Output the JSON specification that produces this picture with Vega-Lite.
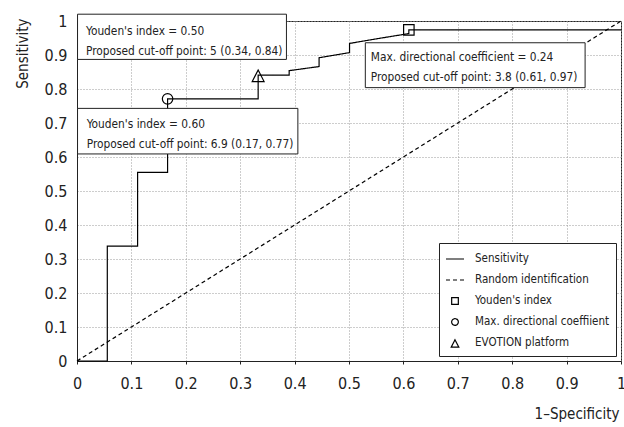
{
  "$schema": "https://vega.github.io/schema/vega-lite/v6.json",
  "width": 544,
  "height": 340,
  "autosize": {"type": "none"},
  "padding": {"left": 77, "top": 21, "right": 3, "bottom": 66},
  "background": "white",
  "config": {
    "font": "'DejaVu Sans Condensed', 'Liberation Sans', sans-serif",
    "view": {"stroke": "#222", "strokeWidth": 1},
    "axis": {
      "grid": true,
      "gridColor": "#9a9a9a",
      "gridDash": [1, 2],
      "gridWidth": 1,
      "domainColor": "#222",
      "domainWidth": 1,
      "tickColor": "#222",
      "labelColor": "#222",
      "labelFontSize": 16,
      "labelFlush": false,
      "labelOverlap": false,
      "titleColor": "#222",
      "titleFontWeight": "normal"
    },
    "legend": {
      "title": null,
      "orient": "bottom-right",
      "offset": 5,
      "strokeColor": "#222",
      "fillColor": "white",
      "padding": 6,
      "labelFontSize": 11.5,
      "labelColor": "#222",
      "labelOffset": 10,
      "labelLimit": 400,
      "symbolSize": 324,
      "symbolStrokeColor": "black",
      "symbolFillColor": "transparent",
      "symbolStrokeWidth": 1.2,
      "rowPadding": 5
    }
  },
  "datasets": {
    "curve": [
      {"series": "Sensitivity", "i": 0, "x": 0, "y": 0},
      {"series": "Sensitivity", "i": 1, "x": 0.0557, "y": 0},
      {"series": "Sensitivity", "i": 2, "x": 0.0557, "y": 0.338},
      {"series": "Sensitivity", "i": 3, "x": 0.1114, "y": 0.338},
      {"series": "Sensitivity", "i": 4, "x": 0.1114, "y": 0.555},
      {"series": "Sensitivity", "i": 5, "x": 0.1665, "y": 0.555},
      {"series": "Sensitivity", "i": 6, "x": 0.1665, "y": 0.771},
      {"series": "Sensitivity", "i": 7, "x": 0.333, "y": 0.771},
      {"series": "Sensitivity", "i": 8, "x": 0.333, "y": 0.841},
      {"series": "Sensitivity", "i": 9, "x": 0.39, "y": 0.841},
      {"series": "Sensitivity", "i": 10, "x": 0.39, "y": 0.854},
      {"series": "Sensitivity", "i": 11, "x": 0.445, "y": 0.866},
      {"series": "Sensitivity", "i": 12, "x": 0.445, "y": 0.892},
      {"series": "Sensitivity", "i": 13, "x": 0.501, "y": 0.907},
      {"series": "Sensitivity", "i": 14, "x": 0.501, "y": 0.934},
      {"series": "Sensitivity", "i": 15, "x": 0.556, "y": 0.949},
      {"series": "Sensitivity", "i": 16, "x": 0.61, "y": 0.963},
      {"series": "Sensitivity", "i": 17, "x": 0.61, "y": 0.974},
      {"series": "Sensitivity", "i": 18, "x": 1, "y": 0.974},
      {"series": "Random identification", "i": 0, "x": 0, "y": 0},
      {"series": "Random identification", "i": 1, "x": 1, "y": 1}
    ],
    "points": [
      {"series": "Youden's index", "x": 0.61, "y": 0.974},
      {"series": "Max. directional coeffiient", "x": 0.1665, "y": 0.771},
      {"series": "EVOTION platform", "x": 0.333, "y": 0.841}
    ],
    "boxes": [
      {"x": 0.001, "x2": 0.385, "y": 0.887, "y2": 1.02},
      {"x": 0.001, "x2": 0.406, "y": 0.609, "y2": 0.743},
      {"x": 0.53, "x2": 0.934, "y": 0.804, "y2": 0.936}
    ],
    "notes": [
      {"x": 0.0165, "y": 0.959, "text": "Youden's index = 0.50"},
      {"x": 0.0165, "y": 0.9, "text": "Proposed cut-off point: 5 (0.34, 0.84)"},
      {"x": 0.0178, "y": 0.684, "text": "Youden's index = 0.60"},
      {"x": 0.0178, "y": 0.626, "text": "Proposed cut-off point: 6.9 (0.17, 0.77)"},
      {"x": 0.54, "y": 0.882, "text": "Max. directional coefficient = 0.24"},
      {"x": 0.54, "y": 0.824, "text": "Proposed cut-off point: 3.8 (0.61, 0.97)"}
    ]
  },
  "encoding": {
    "x": {
      "field": "x",
      "type": "quantitative",
      "scale": {"domain": [0, 1], "nice": false, "zero": false},
      "axis": {
        "title": "1–Specificity",
        "values": [0, 0.1, 0.2, 0.3, 0.4, 0.5, 0.6, 0.7, 0.8, 0.9, 1],
        "format": ".1~f",
        "tickSize": 3,
        "labelPadding": 11,
        "titleFontSize": 15,
        "titleX": 542,
        "titleY": 57,
        "titleAlign": "right",
        "titleBaseline": "alphabetic"
      }
    },
    "y": {
      "field": "y",
      "type": "quantitative",
      "scale": {"domain": [0, 1], "nice": false, "zero": false},
      "axis": {
        "title": "Sensitivity",
        "values": [0, 0.1, 0.2, 0.3, 0.4, 0.5, 0.6, 0.7, 0.8, 0.9, 1],
        "format": ".1~f",
        "ticks": false,
        "labelPadding": 10,
        "labelBaseline": "middle",
        "titleFontSize": 15,
        "titleAngle": 270,
        "titleX": -55,
        "titleY": -3,
        "titleAlign": "right",
        "titleBaseline": "middle"
      }
    }
  },
  "layer": [
    {
      "data": {"name": "curve"},
      "mark": {"type": "line", "color": "black", "strokeWidth": 1.2, "clip": false},
      "encoding": {
        "strokeDash": {
          "field": "series",
          "type": "nominal",
          "scale": {
            "domain": ["Sensitivity", "Random identification", "Youden's index", "Max. directional coeffiient", "EVOTION platform"],
            "range": [[1, 0], [4, 3], [1, 0], [1, 0], [1, 0]]
          }
        },
        "order": {"field": "i", "type": "quantitative"}
      }
    },
    {
      "data": {"name": "points"},
      "mark": {"type": "point", "filled": false, "color": "black", "size": 800, "strokeWidth": 1.2, "opacity": 1, "clip": false},
      "encoding": {
        "shape": {
          "field": "series",
          "type": "nominal",
          "scale": {
            "domain": ["Sensitivity", "Random identification", "Youden's index", "Max. directional coeffiient", "EVOTION platform"],
            "range": [
              "M-1,0H1",
              "M-1,0H1",
              "M-0.37,-0.37H0.37V0.37H-0.37Z",
              "M0.37,0A0.37,0.37,0,1,1,-0.37,0A0.37,0.37,0,1,1,0.37,0Z",
              "M0,-0.36L0.42,0.46L-0.42,0.46Z"
            ]
          }
        }
      }
    },
    {
      "data": {"name": "boxes"},
      "mark": {"type": "rect", "fill": "white", "stroke": "#222", "strokeWidth": 1, "clip": false},
      "encoding": {
        "x2": {"field": "x2"},
        "y2": {"field": "y2"}
      }
    },
    {
      "data": {"name": "notes"},
      "mark": {"type": "text", "align": "left", "baseline": "alphabetic", "fontSize": 11.8, "color": "#222", "clip": false},
      "encoding": {
        "text": {"field": "text", "type": "nominal"}
      }
    }
  ]
}
